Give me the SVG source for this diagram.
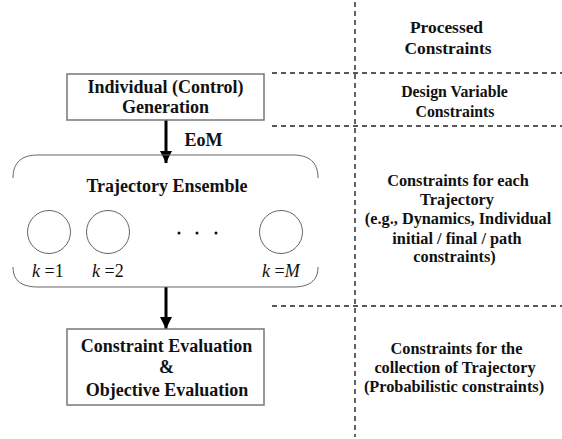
<svg xmlns="http://www.w3.org/2000/svg" width="562" height="439" viewBox="0 0 562 439">
<defs>
<style>
.box{fill:#fff;stroke:#777;stroke-width:1.5}
.dash{stroke:#222;stroke-width:1.4;stroke-dasharray:5,4;fill:none}
.conn{stroke:#000;stroke-width:3;fill:none}
.circ{fill:#fff;stroke:#666;stroke-width:1}
.bracket{fill:none;stroke:#666;stroke-width:1}
</style>
<marker id="ah" viewBox="0 0 10 10" refX="10" refY="5" markerWidth="4" markerHeight="4" orient="auto" markerUnits="strokeWidth">
<path d="M0,0 L10,5 L0,10 z" fill="#000"/>
</marker>
</defs>
<rect width="562" height="439" fill="#fff"/>
<g id="grid">
<line class="dash" x1="355" y1="2" x2="355" y2="437"/>
<line class="dash" x1="272" y1="73" x2="562" y2="73"/>
<line class="dash" x1="272" y1="126" x2="562" y2="126"/>
<line class="dash" x1="272" y1="306" x2="562" y2="306"/>
</g>
<g id="connectors">
<line class="conn" x1="166" y1="120" x2="166" y2="163" marker-end="url(#ah)"/>
<line class="conn" x1="166" y1="287" x2="166" y2="329" marker-end="url(#ah)"/>
<text font-family="Liberation Serif" font-weight="bold" font-size="18" fill="#111" text-anchor="middle" x="203.5" y="146">EoM</text>
</g>
<g id="generation">
<rect class="box" x="67" y="74" width="197" height="46"/>
<g font-family="Liberation Serif" font-weight="bold" font-size="18" fill="#111" text-anchor="middle">
<text x="165.5" y="93">Individual (Control)</text>
<text x="165.5" y="113">Generation</text>
</g>
</g>
<g id="ensemble">
<path class="bracket" d="M13,178 C13,162 22,155 38,155 L293,155 C309,155 318,162 318,178"/>
<path class="bracket" d="M13,267 C13,281 22,287 38,287 L293,287 C309,287 318,281 318,267"/>
<text font-family="Liberation Serif" font-weight="bold" font-size="18" fill="#111" text-anchor="middle" x="167" y="192">Trajectory Ensemble</text>
<circle class="circ" cx="49" cy="232" r="21.5"/>
<circle class="circ" cx="108" cy="232" r="21.5"/>
<circle class="circ" cx="281" cy="232" r="21.5"/>
<circle cx="179" cy="233" r="1.5" fill="#111"/>
<circle cx="197" cy="233" r="1.5" fill="#111"/>
<circle cx="216" cy="233" r="1.5" fill="#111"/>
<g font-family="Liberation Serif" font-size="18" fill="#111">
<text x="32" y="277"><tspan font-style="italic">k</tspan> =1</text>
<text x="92" y="277"><tspan font-style="italic">k</tspan> =2</text>
<text x="262" y="277"><tspan font-style="italic">k</tspan> =<tspan font-style="italic">M</tspan></text>
</g>
</g>
<g id="evaluation">
<rect class="box" x="67" y="329" width="197" height="76"/>
<g font-family="Liberation Serif" font-weight="bold" font-size="18" fill="#111" text-anchor="middle">
<text x="166.5" y="352">Constraint Evaluation</text>
<text x="166.5" y="373">&amp;</text>
<text x="167" y="396">Objective Evaluation</text>
</g>
</g>
<g id="labels" font-family="Liberation Serif" font-weight="bold" font-size="16.3" fill="#111" text-anchor="middle">
<text font-size="17.4" x="446.5" y="33">Processed</text>
<text font-size="17.4" x="448" y="54">Constraints</text>
<text font-size="15.8" x="454.5" y="97">Design Variable</text>
<text font-size="15.8" x="455" y="117">Constraints</text>
<text x="458" y="186">Constraints for each</text>
<text x="457" y="205">Trajectory</text>
<text x="458" y="224">(e.g., Dynamics, Individual</text>
<text x="457" y="244">initial / final / path</text>
<text x="454.5" y="262">constraints)</text>
<text x="456.5" y="354">Constraints for the</text>
<text x="455" y="373">collection of Trajectory</text>
<text x="454" y="392">(Probabilistic constraints)</text>
</g>
</svg>
